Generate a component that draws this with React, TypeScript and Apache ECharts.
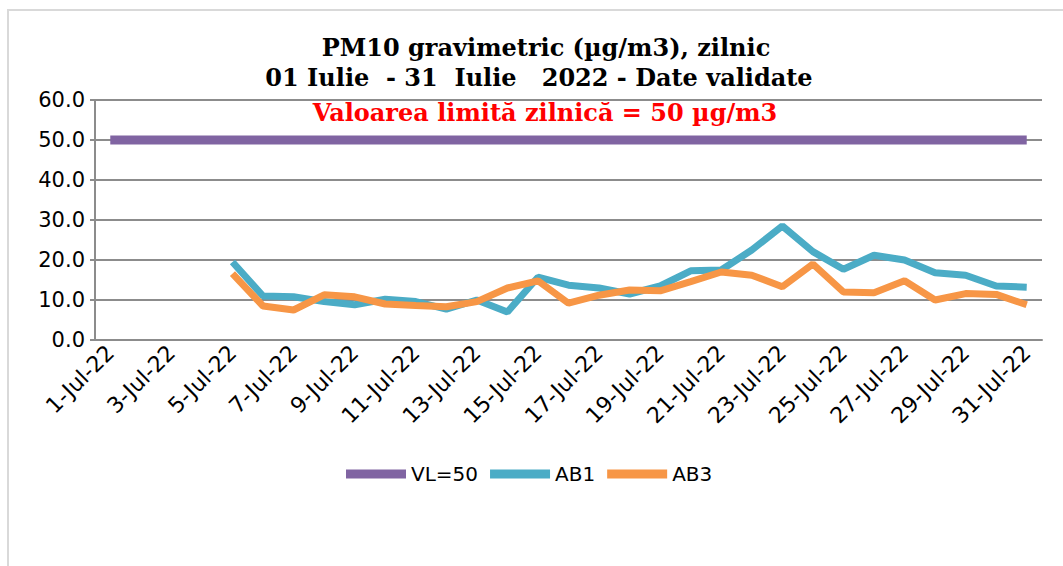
import React, { useEffect, useRef } from "react";
import * as echarts from "echarts";

const days: string[] = Array.from({ length: 31 }, (_, i) => `${i + 1}-Jul-22`);
const vlValues: number[] = [50,50,50,50,50,50,50,50,50,50,50,50,50,50,50,50,50,50,50,50,50,50,50,50,50,50,50,50,50,50,50];
const ab1Values: (number | null)[] = [null,null,null,null,19.5,11.0,10.8,9.6,8.8,10.2,9.6,7.7,10.0,7.0,15.7,13.7,13.0,11.5,13.5,17.3,17.5,22.5,28.5,22.1,17.7,21.2,20.0,16.8,16.2,13.5,13.2];
const ab3Values: (number | null)[] = [null,null,null,null,16.6,8.5,7.5,11.3,10.8,9.0,8.6,8.3,9.6,13.0,14.8,9.2,11.2,12.5,12.3,14.6,17.0,16.2,13.3,19.0,12.0,11.8,14.8,10.0,11.6,11.4,8.8];
const seriesNames = ["VL=50", "AB1", "AB3"];
const titleLine1 = "PM10 gravimetric (µg/m3), zilnic";
const titleLine2 = "01 Iulie  - 31  Iulie   2022 - Date validate";
const limitText = "Valoarea limită zilnică = 50 µg/m3";

export default function App() {
  const ref = useRef<HTMLDivElement>(null);
  useEffect(() => {
    if (!ref.current) return;
    const chart = echarts.init(ref.current, null, { renderer: "svg" });
    const serif = "bold 24px 'DejaVu Serif'";
    chart.setOption({
      animation: false,
      backgroundColor: "#ffffff",
      graphic: [
        { type: "rect", z: -10, shape: { x: 8, y: 10, width: 1100, height: 600 }, style: { fill: "none", stroke: "#d9d9d9", lineWidth: 2 } },
        { type: "text", x: 546, y: 47, style: { text: titleLine1, font: serif, fill: "#000", align: "center", verticalAlign: "middle" } },
        { type: "text", x: 539, y: 77, style: { text: titleLine2, font: serif, fill: "#000", align: "center", verticalAlign: "middle" } },
        { type: "text", x: 545, y: 112, style: { text: limitText, font: serif, fill: "#ff0000", align: "center", verticalAlign: "middle" } },
      ],
      legend: {
        data: seriesNames,
        left: 341,
        top: 459,
        itemWidth: 60,
        itemHeight: 9,
        itemGap: 12,
        icon: "rect",
        textStyle: { fontFamily: "DejaVu Sans", fontSize: 20, color: "#000" },
      },
      grid: { left: 95, right: 21, top: 100, bottom: 226 },
      xAxis: {
        type: "category",
        data: days,
        boundaryGap: true,
        axisLine: { lineStyle: { color: "#8c8c8c", width: 2 } },
        axisTick: { show: false },
        axisLabel: { interval: 1, rotate: 45, fontFamily: "DejaVu Sans", fontSize: 22, color: "#000", margin: 9 },
      },
      yAxis: {
        type: "value",
        min: 0,
        max: 60,
        interval: 10,
        axisLine: { show: true, lineStyle: { color: "#8c8c8c", width: 2 } },
        axisTick: { show: true, length: 5, lineStyle: { color: "#8c8c8c", width: 2 } },
        splitLine: { lineStyle: { color: "#8c8c8c", width: 2 } },
        axisLabel: { fontFamily: "DejaVu Sans", fontSize: 21, color: "#000", margin: 10, formatter: (v: number) => v.toFixed(1) },
      },
      series: [
        { name: seriesNames[0], type: "line", data: vlValues, symbol: "none", lineStyle: { color: "#8064a2", width: 9 }, itemStyle: { color: "#8064a2" } },
        { name: seriesNames[1], type: "line", data: ab1Values, symbol: "none", lineStyle: { color: "#4bacc6", width: 7 }, itemStyle: { color: "#4bacc6" } },
        { name: seriesNames[2], type: "line", data: ab3Values, symbol: "none", lineStyle: { color: "#f79646", width: 7 }, itemStyle: { color: "#f79646" } },
      ],
    });
    return () => chart.dispose();
  }, []);
  return <div ref={ref} style={{ position: "fixed", left: 0, top: 0, width: 1063, height: 566 }} />;
}
